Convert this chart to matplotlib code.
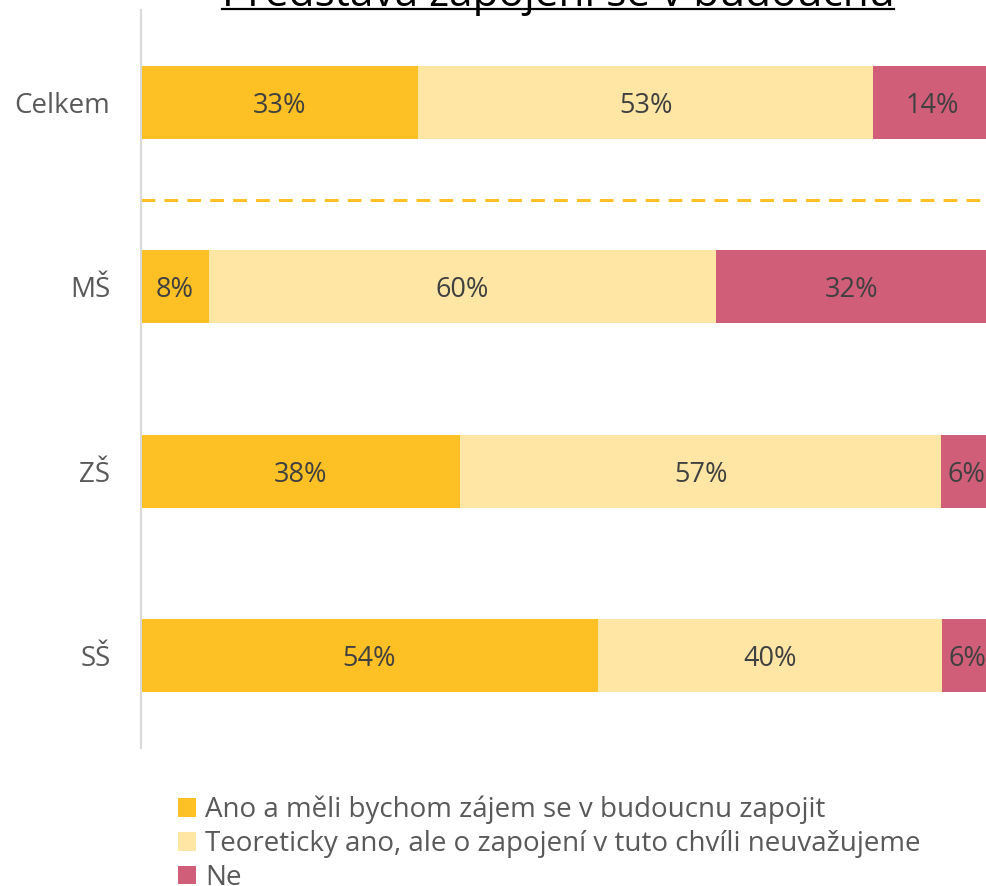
import matplotlib
matplotlib.use("Agg")
import matplotlib.pyplot as plt
from matplotlib.lines import Line2D

categories = ["Celkem", "MŠ", "ZŠ", "SŠ"]
series_names = [
    "Ano a měli bychom zájem se v budoucnu zapojit",
    "Teoreticky ano, ale o zapojení v tuto chvíli neuvažujeme",
    "Ne",
]
ano = [32.8, 8.0, 37.7, 54.0]
teoreticky = [53.7, 60.0, 56.9, 40.7]
ne = [14.0, 32.0, 6.0, 6.0]
labels_ano = ["33%", "8%", "38%", "54%"]
labels_teoreticky = ["53%", "60%", "57%", "40%"]
labels_ne = ["14%", "32%", "6%", "6%"]
colors = ["#FEC125", "#FFE6A5", "#D05E79"]
title = "Představa zapojení se v budoucnu"

FONT = ["Open Sans", "DejaVu Sans"]
plt.rcParams["font.family"] = FONT

fig = plt.figure(figsize=(9.87, 8.86), dpi=100)
ax = fig.add_axes([141 / 987, 1 - 748 / 886, 1 - 141 / 987, (748 - 10) / 886])

ypos = list(range(len(categories)))
left = [0.0] * len(categories)
for vals, labs, col, name in zip([ano, teoreticky, ne],
                                  [labels_ano, labels_teoreticky, labels_ne],
                                  colors, series_names):
    bars = ax.barh(ypos, vals, left=left, height=0.395, color=col, label=name)
    for b, lab in zip(bars, labs):
        cx = b.get_x() + b.get_width() / 2
        ax.text(cx, b.get_y() + b.get_height() / 2, lab, ha="center", va="center_baseline",
                fontsize=19.5, color="#404040")
    left = [l + v for l, v in zip(left, vals)]

ax.axhline(0.532, color="#FEC125", lw=2.2, linestyle=(0, (4.5, 3)))

ax.set_xlim(0, 100)
ax.set_ylim(3.5, -0.5)
ax.set_yticks(ypos)
ax.set_yticklabels(categories, fontsize=20, color="#595959")
ax.tick_params(axis="y", length=0, pad=22)
ax.set_xticks([])
for s in ["top", "right", "bottom"]:
    ax.spines[s].set_visible(False)
ax.spines["left"].set_color("#D9D9D9")
ax.spines["left"].set_linewidth(1.5)

leg = fig.legend(loc="upper left", bbox_to_anchor=(178 / 987, 1 - 796 / 886),
                 frameon=False, fontsize=20, handlelength=0.65, handleheight=0.65,
                 handletextpad=0.33, labelspacing=0.2, borderaxespad=0,
                 borderpad=0, labelcolor="#595959")

t = fig.text(558 / 987, 1 - 6 / 886, title, ha="center", va="baseline",
             fontsize=30.5, color="#000000")
fig.canvas.draw()
bb = t.get_window_extent()
uy = (886 - 9) / 886
fig.add_artist(Line2D([bb.x0 / 987, bb.x1 / 987], [uy, uy], transform=fig.transFigure,
                      color="#000000", lw=1.6))

fig.savefig("out.png", dpi=100)
